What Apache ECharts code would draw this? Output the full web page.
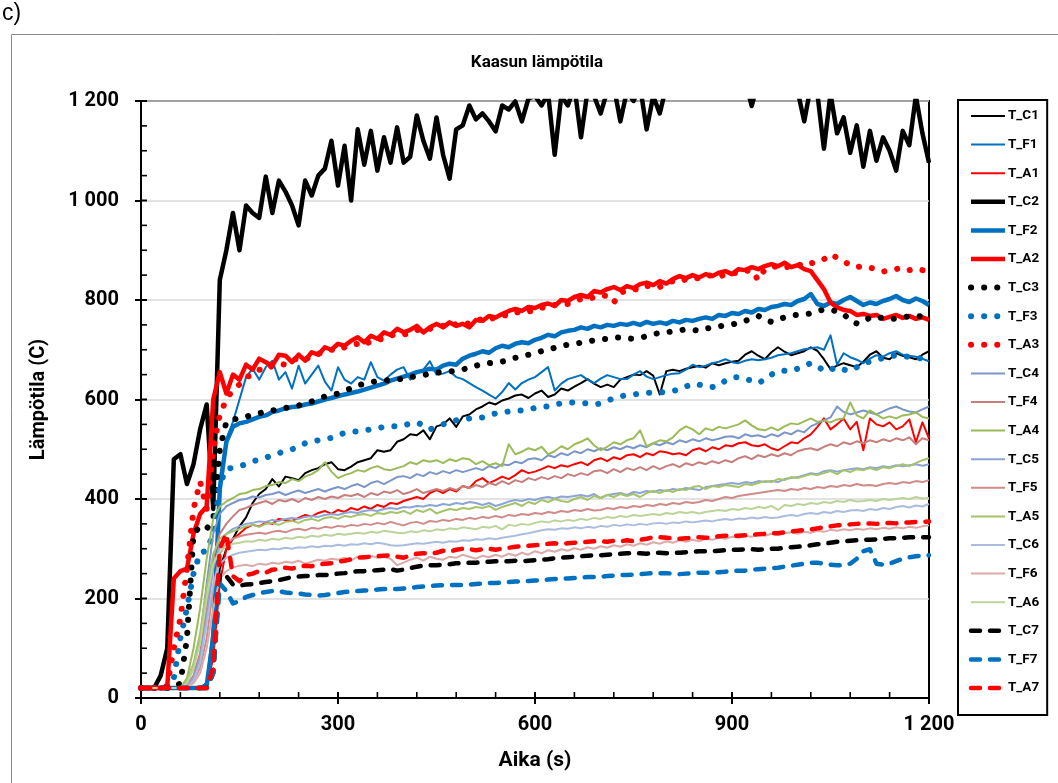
<!DOCTYPE html>
<html>
<head>
<meta charset="utf-8">
<script src="https://cdn.jsdelivr.net/npm/echarts@6/dist/echarts.min.js"></script>
<style>
html,body{margin:0;padding:0;background:#fff;}
#chart{width:1058px;height:783px;}
</style>
</head>
<body>
<div id="chart"></div>
<script>
// time axis (s)
const time = [
0,10,20,30,40,50,60,70,80,90,
100,110,120,130,140,150,160,170,180,190,
200,210,220,230,240,250,260,270,280,290,
300,310,320,330,340,350,360,370,380,390,
400,410,420,430,440,450,460,470,480,490,
500,510,520,530,540,550,560,570,580,590,
600,610,620,630,640,650,660,670,680,690,
700,710,720,730,740,750,760,770,780,790,
800,810,820,830,840,850,860,870,880,890,
900,910,920,930,940,950,960,970,980,990,
1000,1010,1020,1030,1040,1050,1060,1070,1080,1090,
1100,1110,1120,1130,1140,1150,1160,1170,1180,1190,
1200];

const seriesNames = ['T_C1','T_F1','T_A1','T_C2','T_F2','T_A2','T_C3','T_F3','T_A3',
  'T_C4','T_F4','T_A4','T_C5','T_F5','T_A5','T_C6','T_F6','T_A6','T_C7','T_F7','T_A7'];

// axis tick values
const xMajorTicks = [0,300,600,900,1200];
const xMinorTicks = [60,120,180,240,360,420,480,540,660,720,780,840,960,1020,1080,1140];
const yMajorTicks = [0,200,400,600,800,1000,1200];
const yMinorTicks = [50,100,150,250,300,350,450,500,550,650,700,750,850,900,950,1050,1100,1150];

const T_C1 = [20,20,20,20,20,20,20,20,20,20,
30,100,260,300,320,345,363,392,410,420,
440,425,445,442,438,452,458,462,470,474,
460,458,465,474,478,482,498,495,498,515,
520,530,528,538,520,546,550,562,545,566,
570,580,586,594,590,598,602,608,610,603,
612,618,605,610,622,618,626,633,641,632,
625,630,625,640,645,650,649,657,648,610,
657,660,657,662,665,668,664,673,669,673,
676,678,690,697,688,681,695,705,696,689,
693,697,705,698,681,661,668,673,669,665,
676,690,697,684,681,693,688,685,681,690,
697];
const T_F1 = [20,20,20,20,20,20,20,20,20,20,
30,150,440,520,555,600,645,662,640,665,
678,640,655,622,668,632,650,668,636,618,
665,640,632,645,640,675,645,638,650,660,
665,640,655,660,677,650,652,657,645,641,
633,625,618,610,602,615,633,620,633,640,
645,655,665,618,632,641,645,649,640,633,
642,649,645,641,641,650,657,646,641,645,
649,652,653,660,670,665,668,673,676,681,
675,673,678,681,679,681,684,689,691,693,
697,701,703,705,700,729,670,693,685,680,
673,682,689,686,693,697,690,688,686,682,
677];
const T_A1 = [20,20,20,20,20,20,20,20,20,20,
25,80,230,300,320,330,342,348,345,352,
350,360,358,356,362,368,365,372,376,370,
378,374,382,378,385,380,388,384,392,390,
396,400,404,400,412,418,412,420,415,426,
422,436,442,432,438,445,440,448,458,452,
455,460,466,462,468,465,470,474,468,478,
482,476,484,480,488,490,484,492,488,496,
494,490,492,488,498,502,496,504,500,508,
506,512,514,508,506,510,502,498,506,514,
512,522,530,545,562,540,550,562,540,555,
498,562,550,546,554,540,546,560,514,554,
522];
const T_C2 = [20,20,20,45,100,480,490,430,470,540,
590,380,840,900,975,900,990,975,965,1048,
975,1040,1018,990,950,1040,1010,1050,1064,1120,
1030,1110,1000,1143,1072,1140,1060,1127,1076,1147,
1076,1088,1171,1120,1084,1167,1092,1044,1143,1151,
1191,1163,1175,1159,1139,1191,1183,1199,1159,1205,
1210,1191,1215,1092,1210,1191,1230,1127,1220,1210,
1175,1220,1230,1159,1220,1200,1230,1143,1210,1175,
1230,1240,1235,1250,1240,1230,1245,1240,1250,1240,
1235,1245,1240,1190,1240,1250,1235,1245,1240,1250,
1220,1159,1230,1215,1104,1215,1135,1167,1096,1151,
1068,1140,1080,1127,1100,1060,1140,1111,1210,1135,
1076];
const T_F2 = [20,20,20,20,20,20,20,20,20,20,
25,120,420,515,545,552,555,560,565,568,
575,578,582,585,586,590,592,596,600,603,
607,610,613,616,620,624,628,632,638,642,
646,650,655,658,662,660,668,672,670,682,
688,692,697,694,703,708,705,712,715,713,
720,724,730,727,735,738,740,745,742,748,
745,750,748,752,750,754,750,756,752,755,
752,758,755,760,758,762,765,762,770,768,
774,772,778,775,782,780,786,788,792,790,
798,802,812,792,788,795,792,800,806,798,
790,795,792,798,802,808,800,796,803,798,
790];
const T_A2 = [20,20,20,20,22,240,255,260,330,370,
385,600,655,612,650,640,670,660,682,675,
668,690,688,675,690,678,695,690,705,700,
712,708,718,725,715,728,722,735,730,742,
735,740,748,735,745,752,745,755,748,752,
745,760,758,768,765,772,778,782,778,786,
784,790,793,788,800,798,806,810,806,818,
815,822,826,820,828,824,832,835,830,838,
833,842,848,844,850,845,852,848,855,858,
852,862,860,866,862,868,872,868,875,866,
870,862,858,840,822,795,785,780,778,770,
772,768,770,762,766,770,764,768,762,765,
760];
const T_C3 = [20,20,20,20,20,20,30,120,330,345,
340,360,500,555,560,562,565,570,572,576,
578,580,583,585,588,592,596,602,606,608,
612,618,622,628,632,635,637,638,639,640,
642,645,647,649,652,654,655,656,658,660,
665,668,672,673,674,676,680,684,686,690,
694,697,700,704,708,710,712,714,716,719,
721,722,724,725,723,722,724,727,731,734,
735,737,739,741,740,738,742,745,747,749,
751,753,758,763,768,760,756,761,765,769,
770,771,773,777,781,780,777,772,758,753,
755,765,765,764,761,763,765,767,769,766,
765];
const T_F3 = [20,20,20,20,20,40,120,180,250,292,
296,330,430,460,463,466,470,476,479,483,
488,492,497,500,505,512,515,518,520,523,
528,533,535,536,538,540,542,545,546,546,
548,552,554,548,540,545,550,555,558,560,
562,562,564,568,572,574,576,578,578,580,
583,585,586,590,592,594,594,593,592,590,
592,598,602,606,609,610,612,613,614,614,
615,617,620,626,632,630,626,625,628,638,
644,645,641,638,633,640,650,657,658,657,
662,668,673,668,657,660,665,660,657,665,
673,676,680,683,686,689,688,685,684,682,
681];
const T_A3 = [20,20,20,20,25,100,160,260,380,435,
380,500,570,600,620,630,645,650,660,658,
668,672,670,678,684,680,688,692,695,700,
698,705,710,712,708,718,722,720,728,732,
730,735,740,738,742,745,748,745,752,755,
752,758,762,760,766,770,768,774,778,776,
782,785,783,790,793,792,798,802,800,806,
810,808,795,815,818,822,820,828,830,826,
834,838,836,842,845,843,848,850,846,852,
855,853,858,860,840,862,866,868,864,870,
872,868,874,876,882,892,885,878,870,866,
868,865,862,857,860,862,865,860,863,860,
861];
const T_C4 = [20,20,20,20,20,20,20,30,60,120,
230,330,370,385,392,398,400,405,403,408,
410,414,408,413,417,412,416,420,415,420,
424,420,426,430,424,432,436,430,437,444,
446,442,450,446,454,450,456,452,458,454,
458,462,458,466,462,470,468,475,472,480,
482,478,488,484,492,488,496,492,500,496,
502,498,504,500,506,502,508,504,512,508,
514,510,518,514,520,516,522,518,521,525,
526,522,530,526,528,524,530,526,534,530,
538,534,546,552,558,564,586,575,570,574,
578,574,570,576,582,586,580,576,574,580,
586];
const T_F4 = [20,20,20,20,20,20,20,25,45,90,
180,280,330,350,365,378,382,388,392,396,
390,398,395,400,394,402,398,404,400,405,
402,408,406,410,404,412,408,415,412,418,
410,414,420,412,416,420,416,422,418,426,
422,428,424,432,428,436,430,438,434,442,
438,444,440,446,442,450,446,452,448,456,
458,452,460,454,462,458,464,458,466,460,
466,470,464,472,468,474,470,476,472,478,
474,482,486,480,488,484,490,486,492,488,
496,500,502,498,505,510,506,514,510,516,
512,518,514,520,516,522,518,524,510,522,
518];
const T_A4 = [20,20,20,20,20,20,20,40,100,180,
280,360,385,395,402,410,412,418,420,426,
428,434,432,440,436,445,450,458,474,455,
442,448,452,458,455,462,466,460,458,462,
466,474,470,478,475,478,472,480,476,482,
480,470,476,468,472,466,510,490,495,502,
498,505,490,496,506,500,510,515,522,508,
498,505,514,510,518,522,538,506,512,518,
516,524,538,546,540,530,542,538,545,542,
546,550,558,548,540,538,544,538,546,552,
550,556,562,555,558,554,560,562,594,568,
562,578,570,562,566,562,568,570,574,565,
562];
const T_C5 = [20,20,20,20,20,20,20,25,40,80,
160,260,310,330,340,345,350,352,355,354,
358,356,360,362,360,364,366,364,368,370,
368,372,374,372,376,378,376,380,382,380,
384,383,386,385,388,386,390,388,392,390,
394,392,388,392,386,390,395,398,396,400,
398,402,404,401,405,404,406,408,405,410,
402,408,410,412,408,414,412,416,414,418,
416,420,418,422,420,418,424,426,428,430,
432,430,434,432,436,434,436,434,440,442,
444,448,452,450,456,458,455,458,460,462,
460,464,462,466,464,468,466,468,470,467,
470];
const T_F5 = [20,20,20,20,20,20,20,22,35,60,
120,220,290,310,320,325,328,330,332,330,
334,336,333,338,340,337,342,340,344,342,
346,344,348,346,350,348,352,349,354,350,
347,352,354,350,356,354,358,356,360,358,
362,360,364,362,366,363,368,366,370,368,
372,370,374,372,376,374,378,376,380,377,
378,382,380,384,382,386,384,388,386,390,
388,392,390,394,392,394,398,396,400,404,
402,406,408,410,412,414,416,418,416,420,
418,422,420,424,422,426,424,428,426,430,
427,428,426,430,432,430,434,432,436,434,
438];
const T_A5 = [20,20,20,20,20,20,20,35,70,130,
220,290,320,330,335,340,345,348,344,350,
352,348,354,356,352,358,360,356,362,364,
360,366,364,368,370,366,372,370,374,372,
376,370,378,374,380,371,376,380,378,382,
380,384,382,386,378,384,388,392,386,394,
390,398,394,400,396,394,400,404,398,406,
402,408,404,410,406,410,404,412,416,412,
418,414,420,418,424,426,420,426,424,428,
426,424,430,428,432,436,434,440,438,444,
442,446,450,448,452,456,450,458,454,460,
458,462,458,464,462,466,470,466,472,478,
482];
const T_C6 = [20,20,20,20,20,20,20,22,35,70,
150,230,270,282,288,292,294,296,298,297,
300,299,302,300,303,302,305,303,306,305,
308,306,309,308,311,309,312,310,307,306,
307,309,311,310,312,314,312,315,314,317,
316,319,318,321,319,322,324,326,329,331,
334,337,339,338,341,340,343,341,344,342,
346,344,348,346,349,347,350,348,351,352,
350,353,352,355,353,355,357,355,358,360,
358,361,360,363,361,364,362,363,366,368,
366,370,372,370,374,372,376,374,377,378,
376,380,378,382,380,384,386,383,387,385,
390];
const T_F6 = [20,20,20,20,20,20,20,22,30,50,
100,180,240,255,262,266,268,265,270,268,
272,270,274,272,276,270,274,278,276,280,
278,282,276,284,280,286,282,284,280,267,
272,278,282,276,284,280,278,284,282,288,
284,280,286,283,288,284,290,286,292,288,
295,291,297,294,299,296,301,298,303,300,
305,302,307,304,309,306,311,308,313,310,
315,312,317,314,318,315,320,318,322,320,
324,322,326,324,328,326,330,328,331,333,
330,334,332,336,334,338,336,339,337,340,
338,341,339,342,340,343,341,344,342,345,
347];
const T_A6 = [20,20,20,20,20,20,20,30,60,110,
200,270,295,305,310,312,315,314,318,316,
320,318,322,320,324,322,326,324,328,326,
330,328,330,332,330,334,332,336,334,332,
331,335,333,337,335,339,337,341,339,343,
341,339,344,342,346,339,348,346,350,348,
352,355,353,357,355,358,356,360,358,362,
360,364,362,366,364,368,366,368,370,368,
372,370,374,372,374,371,374,376,378,376,
380,378,382,380,384,382,386,378,388,386,
390,388,392,390,394,392,396,394,398,395,
396,398,396,400,398,400,402,400,404,401,
402];
const T_C7 = [20,20,20,20,20,20,20,20,20,20,
20,50,250,245,228,226,228,229,231,233,
235,237,240,243,244,245,246,247,247,248,
250,251,253,255,255,256,257,258,259,256,
258,261,264,266,267,267,268,269,271,271,
272,272,273,274,275,275,275,276,275,276,
277,278,279,281,282,283,284,285,286,287,
287,288,289,290,291,291,291,290,291,292,
291,292,292,293,294,295,295,295,296,297,
298,298,299,299,298,299,300,300,302,303,
304,305,307,309,310,312,314,315,316,317,
318,318,319,320,321,321,322,323,323,323,
323];
const T_F7 = [20,20,20,20,20,20,20,20,20,20,
20,50,230,215,190,195,203,207,211,213,
215,215,212,211,210,208,207,206,207,209,
211,213,214,215,216,217,218,219,219,219,
220,221,223,224,225,226,227,227,227,227,
228,229,230,231,231,232,233,234,235,235,
236,237,238,239,240,240,241,242,243,243,
244,245,246,247,247,248,249,250,251,251,
251,250,249,250,251,252,252,252,253,254,
255,256,256,258,259,260,261,262,264,266,
268,270,272,272,270,268,267,267,270,280,
295,299,270,268,270,275,280,283,285,286,
287];
const T_A7 = [20,20,20,20,20,20,20,20,20,20,
20,60,300,330,245,235,247,250,255,252,
258,259,262,260,264,266,265,268,270,271,
274,276,279,282,283,284,285,286,287,284,
282,286,290,291,290,292,296,294,298,300,
299,297,299,300,298,300,302,304,305,306,
307,308,310,311,310,311,312,313,314,315,
315,314,316,315,317,315,318,320,323,323,
322,321,320,321,322,323,322,323,325,326,
327,326,327,328,329,330,331,331,333,335,
336,338,339,341,343,345,347,348,349,350,
351,351,350,351,352,351,352,353,354,354,
355];

const values = [T_C1,T_F1,T_A1,T_C2,T_F2,T_A2,T_C3,T_F3,T_A3,T_C4,T_F4,T_A4,
  T_C5,T_F5,T_A5,T_C6,T_F6,T_A6,T_C7,T_F7,T_A7];

// styles
const BLACK = '#000000', BLUE = '#0070C0', RED = '#FF0000';
const styles = [
  {color: BLACK, width: 2, type: 'solid'},
  {color: BLUE, width: 2, type: 'solid'},
  {color: RED, width: 2, type: 'solid'},
  {color: BLACK, width: 4.5, type: 'solid'},
  {color: BLUE, width: 4.5, type: 'solid'},
  {color: RED, width: 4.5, type: 'solid'},
  {color: BLACK, width: 6, type: [0.1, 13], cap: 'round'},
  {color: BLUE, width: 6, type: [0.1, 13], cap: 'round'},
  {color: RED, width: 6, type: [0.1, 13], cap: 'round'},
  {color: '#7b96c9', width: 2, type: 'solid'},
  {color: '#c77f7c', width: 2, type: 'solid'},
  {color: '#9bbb59', width: 2, type: 'solid'},
  {color: '#8ca5d6', width: 2, type: 'solid'},
  {color: '#d08b89', width: 2, type: 'solid'},
  {color: '#a5c46a', width: 2, type: 'solid'},
  {color: '#aabde0', width: 2, type: 'solid'},
  {color: '#dcaaa8', width: 2, type: 'solid'},
  {color: '#bcd49a', width: 2, type: 'solid'},
  {color: BLACK, width: 4.5, type: [9, 10], cap: 'round'},
  {color: BLUE, width: 4.5, type: [9, 10], cap: 'round'},
  {color: RED, width: 4.5, type: [9, 10], cap: 'round'}
];

const FONT = 'Roboto, "Liberation Sans", sans-serif';

const series = seriesNames.map((name, i) => ({
  name: name,
  type: 'line',
  symbol: 'none',
  showSymbol: false,
  clip: true,
  color: styles[i].color,
  lineStyle: {
    color: styles[i].color,
    width: styles[i].width,
    type: styles[i].type,
    cap: styles[i].cap || 'butt',
    join: 'round'
  },
  data: time.map((t, k) => [t, values[i][k]])
}));

function fmtNum(v) {
  if (v >= 1000) { const s = String(v); return s.slice(0, s.length - 3) + ' ' + s.slice(s.length - 3); }
  return String(v);
}

const baseGraphic = [
  {type: 'rect', left: 9, top: 32, z: -10, silent: true,
    shape: {x: 0, y: 0, width: 1080, height: 800},
    style: {fill: 'none', stroke: '#8a8a8a', lineWidth: 1}},
  {type: 'text', left: 2, top: 2, silent: true,
    style: {text: 'c)', font: '23px "Liberation Sans", Arial, sans-serif', fill: '#000'}}
];

const chart = echarts.init(document.getElementById('chart'), null, {renderer: 'canvas'});
chart.setOption({
  animation: false,
  backgroundColor: '#ffffff',
  title: {
    text: 'Kaasun lämpötila',
    left: 532,
    textAlign: 'center',
    top: 49,
    textStyle: {fontFamily: FONT, fontSize: 17, fontWeight: 'bold', color: '#000'}
  },
  graphic: baseGraphic,
  grid: {
    left: 141, right: 129, top: 101, bottom: 85,
    show: true, borderColor: '#000', borderWidth: 2, backgroundColor: 'transparent'
  },
  legend: {
    orient: 'vertical',
    left: 958,
    top: 100,
    padding: [9, 8, 20, 10],
    itemWidth: 34,
    itemHeight: 14,
    itemGap: 14.6,
    borderColor: '#000',
    borderWidth: 2,
    data: seriesNames,
    itemStyle: {opacity: 0},
    lineStyle: {width: 'inherit', opacity: 1},
    textStyle: {fontFamily: FONT, fontSize: 13.5, fontWeight: 'bold', color: '#000', padding: [0, 0, 0, -2]}
  },
  xAxis: {
    type: 'value', min: 0, max: 1200, interval: 300, position: 'bottom',
    axisLine: {onZero: false, lineStyle: {color: '#000', width: 2}},
    axisTick: {show: true, length: 6, lineStyle: {color: '#000', width: 2}},
    splitLine: {show: false},
    axisLabel: {formatter: fmtNum, fontFamily: FONT, fontSize: 20, fontWeight: 'bold', color: '#000', margin: 17},
    name: 'Aika (s)', nameLocation: 'middle', nameGap: 52,
    nameTextStyle: {fontFamily: FONT, fontSize: 21, fontWeight: 'bold', color: '#000'}
  },
  yAxis: {
    type: 'value', min: 0, max: 1200, interval: 200, position: 'left',
    axisLine: {onZero: false, lineStyle: {color: '#000', width: 2}},
    axisTick: {show: true, length: 6, lineStyle: {color: '#000', width: 2}},
    splitLine: {show: true, lineStyle: {color: '#d9d9d9', width: 1.5}},
    axisLabel: {formatter: fmtNum, fontFamily: FONT, fontSize: 20, fontWeight: 'bold', color: '#000', margin: 22},
    name: 'Lämpötila (C)', nameLocation: 'middle', nameGap: 92, nameRotate: 90,
    nameTextStyle: {fontFamily: FONT, fontSize: 20, fontWeight: 'bold', color: '#000'}
  },
  series: series
});

// inner tick marks (major + minor), positioned through the chart's own scales
const tickMarks = [];
function addYTick(v, len, w) {
  const p = chart.convertToPixel({gridIndex: 0}, [0, v]);
  tickMarks.push({type: 'line', silent: true, z: 50,
    shape: {x1: p[0], y1: p[1], x2: p[0] + len, y2: p[1]},
    style: {stroke: '#000', lineWidth: w}});
}
function addXTick(v, len, w) {
  const p = chart.convertToPixel({gridIndex: 0}, [v, 0]);
  tickMarks.push({type: 'line', silent: true, z: 50,
    shape: {x1: p[0], y1: p[1], x2: p[0], y2: p[1] - len},
    style: {stroke: '#000', lineWidth: w}});
}
yMajorTicks.forEach(v => addYTick(v, 6, 2));
yMinorTicks.forEach(v => addYTick(v, 6, 1.6));
xMajorTicks.forEach(v => addXTick(v, 6, 2));
xMinorTicks.forEach(v => addXTick(v, 6, 1.6));
chart.setOption({graphic: baseGraphic.concat(tickMarks)});
</script>
</body>
</html>
